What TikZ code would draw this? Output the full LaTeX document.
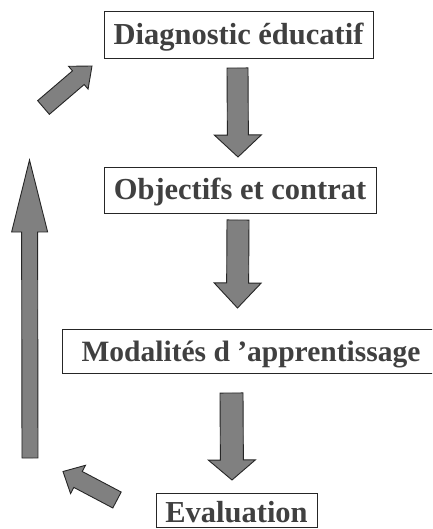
\documentclass[tikz,border=0pt]{standalone}
\usepackage{fontspec}
\setmainfont{Liberation Serif}
\usetikzlibrary{calc}
\tikzset{
  box/.style={draw=black!85, line width=0.8pt, inner sep=0pt, outer sep=0pt,
    text height=22pt, text depth=2pt, text=black!75,
    font=\fontsize{30.5}{34}\selectfont\bfseries},
  arrowsty/.style={fill=black!50, draw=black!85, line width=0.9pt, line join=miter}
}
\newcommand\myblockarrow[6]{%
  \coordinate (#1-b) at ($(#3)!#6!(#2)$);
  \draw[arrowsty] ($(#2)!#4!90:(#3)$) -- ($(#1-b)!#4!90:(#3)$) -- ($(#1-b)!#5!90:(#3)$)
    -- (#3) -- ($(#1-b)!#5!-90:(#3)$) -- ($(#1-b)!#4!-90:(#3)$) -- ($(#2)!#4!-90:(#3)$) -- cycle;
}
\begin{document}
\begin{tikzpicture}[x=1pt,y=-1pt]
\useasboundingbox (0,0) rectangle (432,529);
\clip (0,0) rectangle (432,529);
\fill[white] (0,0) rectangle (432,529);
% boxes
\node[box, minimum width=269pt, minimum height=47pt] (d) at (238.5,34.5) {Diagnostic éducatif};
\node[box, minimum width=272pt, minimum height=46pt] (o) at (240,190) {Objectifs et contrat};
\node[box, minimum width=378pt, minimum height=43.5pt, font=\fontsize{29.5}{34}\selectfont\bfseries] (m) at (251,351.5) {Modalités d 'apprentissage};
\node[box, minimum width=161pt, minimum height=34pt, text height=24pt, text depth=0pt] (e) at (236.5,510.5) {Evaluation};
% arrow end points
\coordinate (a1t) at (237.5,68);  \coordinate (a1h) at (238,157);
\coordinate (a2t) at (238,220);   \coordinate (a2h) at (237.5,308);
\coordinate (a3t) at (231.5,393); \coordinate (a3h) at (232,480);
\coordinate (aLt) at (30,458);    \coordinate (aLh) at (29.5,160);
\coordinate (aTt) at (43.5,107.5);\coordinate (aTh) at (92,66);
\coordinate (aBt) at (117,500);   \coordinate (aBh) at (63,471.5);
% arrows
\myblockarrow{a1}{a1t}{a1h}{10.5pt}{23.5pt}{22pt}
\myblockarrow{a2}{a2t}{a2h}{11pt}{23.5pt}{25pt}
\myblockarrow{a3}{a3t}{a3h}{11.5pt}{23.5pt}{20pt}
\myblockarrow{aL}{aLt}{aLh}{8pt}{18pt}{72pt}
\myblockarrow{aT}{aTt}{aTh}{9pt}{15pt}{18pt}
\myblockarrow{aB}{aBt}{aBh}{9pt}{16pt}{17pt}
\end{tikzpicture}
\end{document}
